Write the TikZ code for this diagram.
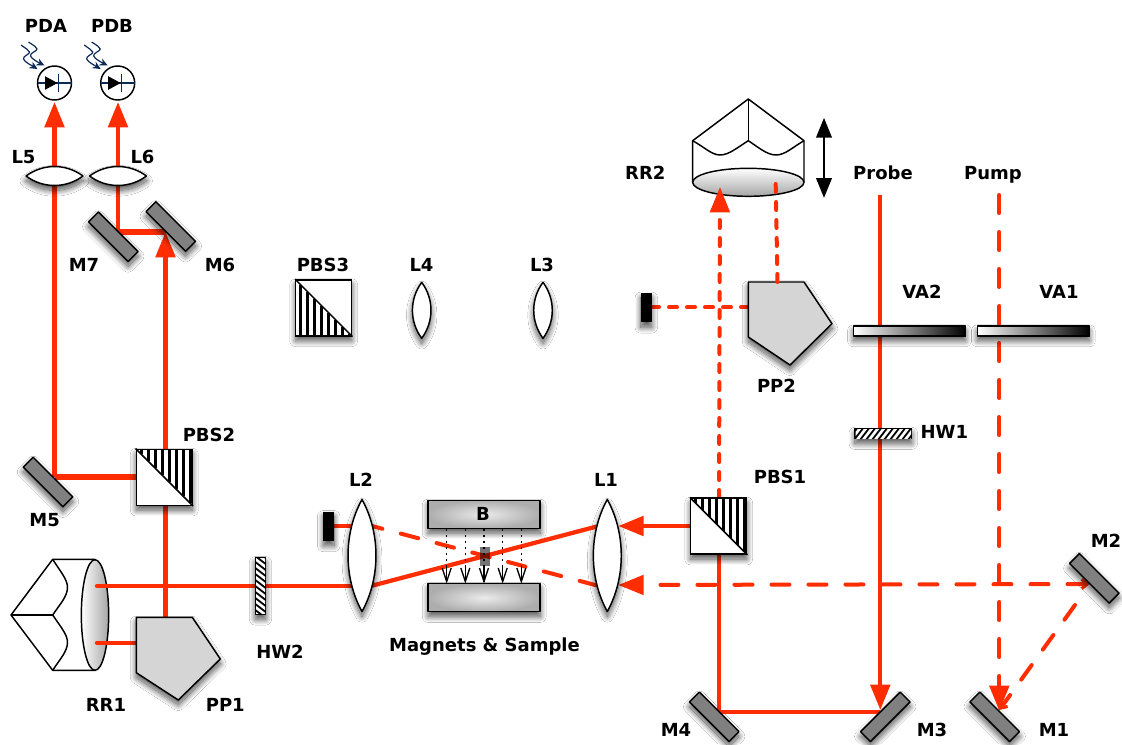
\documentclass[tikz,border=0pt]{standalone}
\usepackage{fontspec}
\setmainfont{DejaVu Sans}[BoldFont={DejaVu Sans Bold}]
\usetikzlibrary{arrows.meta,shadows.blur,calc,shapes.geometric}
\definecolor{beam}{HTML}{FF2D00}
\definecolor{navy}{HTML}{0B2A55}
\definecolor{prism}{HTML}{D5D5D5}
\tikzset{
  softshadow/.style={blur shadow={shadow xshift=0pt,shadow yshift=-3.6pt,shadow blur radius=4.4pt,shadow opacity=70,shadow blur steps=24}},
  outline/.style={draw=black,line width=1.1pt,line join=round},
  label/.style={font=\bfseries\fontsize{13.5pt}{15pt}\selectfont,text=black,inner sep=0pt,text height=9.8pt,text depth=0pt},
  mirror/.style={outline,fill=black!50,softshadow,minimum width=42pt,minimum height=10.5pt,inner sep=0pt},
  cube/.style={outline,fill=white,softshadow,minimum width=42pt,minimum height=42pt,inner sep=0pt},
  stopbar/.style={fill=black,softshadow,minimum width=8pt,minimum height=22pt,inner sep=0pt},
  atten/.style={outline,left color=white,right color=black,softshadow,minimum width=84pt,minimum height=7.5pt,inner sep=0pt},
  magnet/.style={outline,inner color=white!92!black,outer color=black!32,softshadow,minimum width=84pt,minimum height=21pt,inner sep=0pt},
  wave/.style={outline,fill=black,softshadow,inner sep=0pt},
  lensshape/.style={outline,fill=white,softshadow},
  prismshape/.style={outline,fill=prism,softshadow},
  solidbeam/.style={draw=beam,line width=3.2pt},
  thickbeam/.style={draw=beam,line width=3.8pt},
  longdash/.style={draw=beam,line width=3pt,line cap=round,dash pattern=on 13.5pt off 14.25pt},
  shortdash/.style={draw=beam,line width=3pt,line cap=round,dash pattern=on 6pt off 7.5pt},
  beamtip/.style={-{Triangle[width=14.5pt,length=19pt,fill=beam]}},
  barb/.style={-{Straight Barb[width=7pt,length=4pt,line width=2.4pt]}},
  photon/.style={draw=navy,line width=.9pt,-{Stealth[length=6pt,width=5.5pt]}},
  diodeline/.style={draw=navy,line width=.8pt},
  fieldline/.style={draw=black,line width=1pt,dash pattern=on 1.5pt off 3pt},
  fieldhead/.style={draw=black,line width=1pt}
}
% vertical and horizontal lens: name x y halflong halfshort
\newcommand{\lensv}[5]{\path[lensshape] (#2,#3-#4) .. controls (#2-1.33*#5,#3-0.4*#4) and (#2-1.33*#5,#3+0.4*#4) .. (#2,#3+#4) .. controls (#2+1.33*#5,#3+0.4*#4) and (#2+1.33*#5,#3-0.4*#4) .. cycle; \coordinate (#1) at (#2,#3);}
\newcommand{\lensh}[5]{\path[lensshape] (#2-#4,#3) .. controls (#2-0.4*#4,#3-1.33*#5) and (#2+0.4*#4,#3-1.33*#5) .. (#2+#4,#3) .. controls (#2+0.4*#4,#3+1.33*#5) and (#2-0.4*#4,#3+1.33*#5) .. cycle; \coordinate (#1) at (#2,#3);}
% beam splitter: name x y  (hatched upper right)
\newcommand{\pbsur}[3]{\node[cube] (#1) at (#2,#3) {};
  \foreach \s in {5,12,...,54} {\draw[black,line width=2.3pt] ($(#2-28+\s,#3-28)$) -- ($(#2-28+\s,#3-28+\s)$);}
  \draw[black,line width=1.1pt] (#1.north west) -- (#1.south east);
  \node[outline,minimum width=42pt,minimum height=42pt,inner sep=0pt] at (#2,#3) {};}
\newcommand{\pbsll}[3]{\node[cube] (#1) at (#2,#3) {};
  \foreach \s in {5,12,...,54} {\draw[black,line width=2.3pt] ($(#2-28+\s,#3+28)$) -- ($(#2-28+\s,#3-28+\s)$);}
  \draw[black,line width=1.1pt] (#1.north west) -- (#1.south east);
  \node[outline,minimum width=42pt,minimum height=42pt,inner sep=0pt] at (#2,#3) {};}
\newcommand{\photodiode}[3]{\node[draw=black,line width=1.1pt,fill=white,circle,minimum size=25.5pt,inner sep=0pt] (#1) at (#2,#3) {};
  \draw[diodeline] (#2-17,#3) -- (#2+17,#3);
  \draw[diodeline] (#2+3.8,#3-9) -- (#2+3.8,#3+9);
  \fill[black] (#2-9.5,#3-6.8) -- (#2-9.5,#3+6.8) -- (#2+3,#3) -- cycle;
  \draw[photon] (#2-33.5,#3-38) .. controls (#2-28,#3-34) and (#2-26,#3-33) .. (#2-25,#3-31) .. controls (#2-24,#3-29) and (#2-32,#3-27) .. (#2-31,#3-24) .. controls (#2-30,#3-21) and (#2-22,#3-17) .. (#2-17,#3-14);
  \draw[photon] (#2-26,#3-41) .. controls (#2-20,#3-37) and (#2-18,#3-36) .. (#2-17.5,#3-34) .. controls (#2-17,#3-32) and (#2-25,#3-30) .. (#2-24,#3-27) .. controls (#2-23,#3-24) and (#2-15,#3-20) .. (#2-10,#3-17.5);}
\begin{document}
\begin{tikzpicture}[x=0.75pt,y=-0.75pt]
\useasboundingbox (0,0) rectangle (1122,744);
\fill[white] (0,0) rectangle (1122,744);
% retroreflectors
\draw[outline] (95,559.3) -- (52.7,559.3) -- (11,615) -- (52.7,670.3) -- (95,670.3);
\draw[outline] (11,615) -- (52.7,615);
\draw[outline] (52.7,559.3) .. controls (60,571) and (68,580) .. (67.5,588) .. controls (67,597) and (60,604) .. (52.7,615) .. controls (60,626) and (68,635) .. (67.5,643) .. controls (67,652) and (60,659) .. (52.7,670.3);
\node[outline,ellipse,left color=white,right color=black!35,minimum width=20.5pt,minimum height=83pt,inner sep=0pt] (RRone) at (95,615) {};
\draw[outline] (692.7,182.3) -- (692.7,140.7) -- (748.3,99) -- (804,140.7) -- (804,182.3);
\draw[outline] (748.3,99) -- (748.3,140.7);
\draw[outline] (692.7,140.7) .. controls (704,147) and (712,155) .. (720,155) .. controls (729,155) and (738,147) .. (748.3,140.7) .. controls (758,147) and (767,155) .. (776,155) .. controls (785,155) and (793,147) .. (804,140.7);
\node[outline,ellipse,top color=white,bottom color=black!35,minimum width=83.5pt,minimum height=21pt,inner sep=0pt] (RRtwo) at (748.3,182.3) {};
% named beam ends
\coordinate (PDAin) at (54.5,102);
\coordinate (PDBin) at (118,102);
\coordinate (LfiveT) at (54.5,166);
\coordinate (LfiveB) at (54.5,186);
\coordinate (LsixT) at (118,166);
\coordinate (LsixB) at (118,186);
\coordinate (MsevenP) at (118,232);
\coordinate (MsixP) at (165.5,232);
\coordinate (MfiveP) at (54.5,477);
\coordinate (PBStwoL) at (137,477);
\coordinate (PBStwoT) at (165.5,450);
\coordinate (PBStwoB) at (165.5,505);
\coordinate (PPoneT) at (165.5,617.5);
\coordinate (RRoneA) at (97,586);
\coordinate (LtwoA) at (356,586);
\coordinate (LtwoB) at (372,585.7);
\coordinate (LoneA) at (596.7,526.5);
\coordinate (RRoneB) at (97,642.7);
\coordinate (PPoneL) at (137,642.7);
\coordinate (LoneC) at (597,585.5);
\coordinate (LtwoC) at (372,526);
\coordinate (StopA) at (334,526);
\coordinate (LtwoD) at (352,526);
\coordinate (LoneTipA) at (618.3,526);
\coordinate (LoneTipB) at (618.3,585);
\coordinate (PBSoneL) at (691,526);
\coordinate (PBSoneB) at (719,554);
\coordinate (PBSoneT) at (719,498);
\coordinate (MfourP) at (719,711.7);
\coordinate (MthreeP) at (880.3,711.7);
\coordinate (MtwoP) at (1089.5,584);
\coordinate (MoneP) at (999.3,710);
\coordinate (MtwoQ) at (1075,605);
\coordinate (ProbeStart) at (880.3,195);
\coordinate (PumpStart) at (999.3,195);
\coordinate (PPtwoT) at (777.5,282);
\coordinate (RRtwoB) at (775.7,184);
\coordinate (RRtwoTip) at (720,187);
\coordinate (PPtwoL) at (749,307.3);
\coordinate (StopB) at (652,307.3);
% beams
\draw[solidbeam,beamtip] (LfiveT) -- (PDAin);
\draw[solidbeam,beamtip] (LsixT) -- (PDBin);
\draw[solidbeam] (LfiveB) -- (MfiveP);
\draw[thickbeam] (MfiveP) -- (PBStwoL);
\draw[solidbeam,beamtip] (PBStwoT) -- (MsixP);
\draw[thickbeam] (MsixP) -- (MsevenP);
\draw[solidbeam] (MsevenP) -- (LsixB);
\draw[solidbeam] (PBStwoB) -- (PPoneT);
\draw[solidbeam,line cap=round] (RRoneA) -- (LtwoA);
\draw[solidbeam,line cap=round] (RRoneB) -- (PPoneL);
\draw[solidbeam] (LtwoB) -- (LoneA);
\draw[solidbeam,beamtip] (PBSoneL) -- (LoneTipA);
\draw[solidbeam] (PBSoneB) -- (MfourP) -- (MthreeP);
\draw[solidbeam,beamtip] (ProbeStart) -- (880.3,710);
\draw[longdash,beamtip] (PumpStart) -- (999.3,711);
\draw[longdash,barb] (MtwoQ) -- (MoneP);
\draw[longdash,{Straight Barb[width=7pt,length=4pt,line width=2.4pt]}-{Triangle[width=14.5pt,length=19pt,fill=beam]}] (MtwoP) -- (LoneTipB);
\draw[longdash] (LoneC) -- (LtwoC);
\draw[solidbeam] (StopA) -- (LtwoD);
\draw[shortdash,beamtip] (PBSoneT) -- (RRtwoTip);
\draw[shortdash] (PPtwoL) -- (StopB);
% field arrows
\foreach \fx in {446.7,465.3,484,502.7,521.3} {
  \draw[fieldline] (\fx,529) -- (\fx,568);
  \draw[fieldhead] (\fx,566) -- (\fx,581.5);
  \draw[fieldhead,line join=miter] (\fx-4.5,568) -- (\fx,581.5) -- (\fx+4.5,568);
}
% magnets and sample
\node[magnet] (MagTop) at (484.2,514.3) {};
\node[magnet] (MagBot) at (484.2,597.7) {};
\node[fill=black,fill opacity=.55,minimum width=7.5pt,minimum height=14pt,inner sep=0pt] (Sample) at (485,556.5) {};
% lenses
\lensh{Lfive}{54.5}{176}{28.5}{9.5}
\lensh{Lsix}{118}{176}{28.5}{9.5}
\lensv{Lone}{607.3}{555.5}{56}{14}
\lensv{Ltwo}{362}{555.5}{56}{14}
\lensv{Lthree}{543}{310.3}{28}{9.3}
\lensv{Lfour}{421.7}{310.3}{28}{9.3}
% mirrors
\node[mirror,rotate=-45] (Mone) at (994.7,716.8) {};
\node[mirror,rotate=-45] (Mtwo) at (1094.3,578.3) {};
\node[mirror,rotate=45] (Mthree) at (885.3,716.8) {};
\node[mirror,rotate=-45] (Mfour) at (714.2,716.8) {};
\node[mirror,rotate=-45] (Mfive) at (48,482) {};
\node[mirror,rotate=-45] (Msix) at (170.8,226.5) {};
\node[mirror,rotate=-45] (Mseven) at (113.3,236.7) {};
% splitters
\pbsur{PBSone}{718.7}{526.2}
\pbsur{PBStwo}{164.3}{477.3}
\pbsll{PBSthree}{323.7}{307.9}
% prisms
\path[prismshape] (136.3,617.3) -- (192.3,617.3) -- (220.3,659) -- (178.3,700) -- (136.3,672.7) -- cycle;
\path[prismshape] (748.3,282) -- (804,282) -- (832,323.7) -- (790,365) -- (748.3,337) -- cycle;
\draw[shortdash] (RRtwoB) -- (PPtwoT);
% attenuators
\node[atten] (VAtwo) at (909.5,331) {};
\node[atten] (VAone) at (1033.3,331) {};
% wave plates
\node[wave,minimum width=42.5pt,minimum height=7.8pt] (HWone) at (883.3,433.5) {};
\begin{scope}
\clip (855.6,429) rectangle (911,438);
\foreach \s in {0,6,...,66} {\draw[white,line width=2pt] (851+\s,440) -- (861+\s,427);}
\end{scope}
\node[wave,minimum width=7.8pt,minimum height=42.5pt] (HWtwo) at (260.5,586) {};
\begin{scope}
\clip (256,558.6) rectangle (265,613.6);
\foreach \s in {0,6,...,66} {\draw[white,line width=2pt] (254,552+\s) -- (267,562+\s);}
\end{scope}
% beam stops
\node[stopbar] (StopOne) at (328.7,526.3) {};
\node[stopbar] (StopTwo) at (646.3,307.8) {};
% photodiodes
\photodiode{PDAc}{54.5}{83}
\photodiode{PDBc}{117.7}{83}
% translation arrow
\coordinate (ArrTop) at (824,117.7);
\coordinate (ArrBot) at (824,198);
\draw[black,line width=2.2pt,{Triangle[width=11.5pt,length=15pt]}-{Triangle[width=11.5pt,length=15pt]}] (ArrTop) -- (ArrBot);
% labels
\node[label] (tPDA) at (46,25.5) {PDA};
\node[label] (tPDB) at (112,25.5) {PDB};
\node[label] (tLfive) at (23.5,157) {L5};
\node[label] (tLsix) at (142.5,157) {L6};
\node[label] (tMseven) at (84,265) {M7};
\node[label] (tMsix) at (220,265) {M6};
\node[label] (tPBStwo) at (209,434.5) {PBS2};
\node[label] (tMfive) at (44.7,520) {M5};
\node[label] (tRRone) at (106,704.5) {RR1};
\node[label] (tPPone) at (225.3,704.5) {PP1};
\node[label] (tHWtwo) at (280,652) {HW2};
\node[label] (tMag) at (484.5,645) {Magnets \& Sample};
\node[label] (tB) at (483,514) {B};
\node[label] (tLtwo) at (361,480) {L2};
\node[label] (tLone) at (606,480) {L1};
\node[label] (tPBSone) at (780,477) {PBS1};
\node[label] (tPBSthree) at (323,264.5) {PBS3};
\node[label] (tLfour) at (421.5,264.5) {L4};
\node[label] (tLthree) at (542,264.5) {L3};
\node[label] (tRRtwo) at (645.3,172.5) {RR2};
\node[label] (tProbe) at (883,172.5) {Probe};
\node[label] (tPump) at (993,172.5) {Pump};
\node[label] (tVAtwo) at (922,292) {VA2};
\node[label] (tVAone) at (1059,292) {VA1};
\node[label] (tPPtwo) at (776.5,386) {PP2};
\node[label] (tHWone) at (944.3,432) {HW1};
\node[label] (tMtwo) at (1106,541) {M2};
\node[label] (tMfour) at (676,729.5) {M4};
\node[label] (tMthree) at (932,729.5) {M3};
\node[label] (tMone) at (1054,729.5) {M1};
\end{tikzpicture}
\end{document}
